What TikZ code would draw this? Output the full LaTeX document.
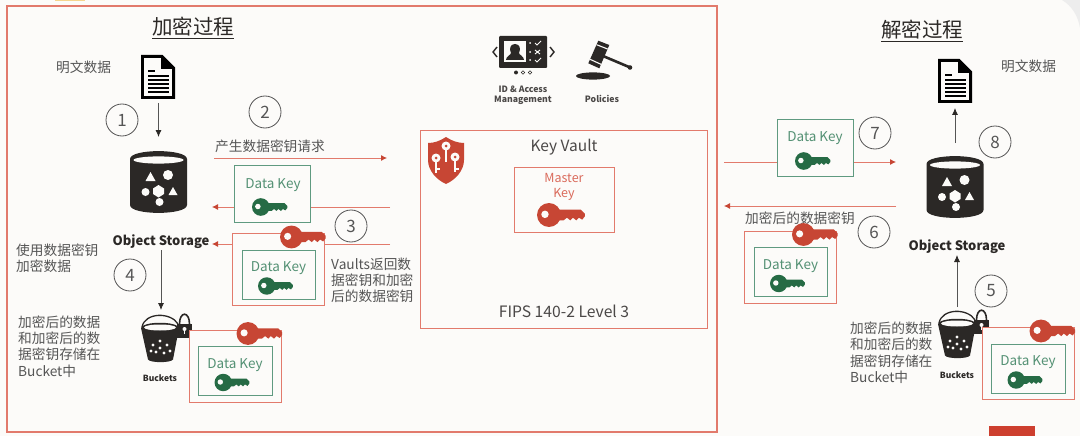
\documentclass[tikz,border=0pt]{standalone}
\usepackage{fontspec}
\setmainfont{Noto Sans CJK SC}
\usetikzlibrary{arrows.meta}
\definecolor{bgc}{HTML}{FCFBF9}
\definecolor{redk}{HTML}{C74634}
\definecolor{redl}{HTML}{E27A6C}
\definecolor{greenk}{HTML}{266B45}
\definecolor{greenl}{HTML}{5F9A80}
\definecolor{txt}{HTML}{555555}
\definecolor{ink}{HTML}{2B2826}
\definecolor{yel}{HTML}{F5D58E}
\tikzset{
  x=1pt,y=-1pt,
  lbl/.style={inner sep=0pt,text=txt,font=\fontsize{13.7}{16.3}\selectfont,align=left,anchor=west,yshift=-1.3pt},
  title/.style={inner sep=0pt,text=ink,font=\fontsize{20.5}{24}\selectfont,yshift=-1pt},
  stepno/.style={circle,draw=txt,line width=0.8pt,minimum size=32pt,inner sep=0pt,text=txt,font=\fontsize{17}{17}\selectfont},
  redarrow/.style={draw=redl,line width=0.8pt,-{Latex[length=6pt,width=6pt,color=redk]}},
  blackarrow/.style={draw=txt,line width=0.8pt,-{Latex[length=7pt,width=6pt,color=ink]}},
  gbox/.style={draw=greenl,line width=1.2pt,fill=bgc,inner sep=0pt},
  rbox/.style={draw=redl,line width=1.4pt,fill=bgc,inner sep=0pt},
  gtext/.style={inner sep=0pt,text=greenl!80!greenk,font=\fontsize{13.5}{15}\selectfont,yshift=-1.5pt},
  bold/.style={inner sep=0pt,text=ink,font=\bfseries\fontsize{#1}{#1}\selectfont,align=center},
  area/.style={inner sep=0pt,minimum width=#1},
}
% key: left x, centre y, scale (1 = 36 wide), colour
\newcommand{\keyicon}[4]{%
\begin{scope}[shift={(#1,#2)},scale=#3]
\fill[#4] (9,0) circle (9);
\fill[#4] (14,-4) -- (33,-4) -- (36,-1) -- (36,1) -- (34,3.5) -- (31.5,2) -- (29.5,4) -- (27,2) -- (25,4) -- (22.5,2) -- (20,4) -- (14,4) -- cycle;
\fill[bgc] (6,-0.5) circle (2.8);
\end{scope}}
% document: top left corner
\newcommand{\docicon}[2]{%
\begin{scope}[shift={(#1,#2)}]
\draw[black,line width=2.8pt,fill=bgc,line join=miter] (1.4,1.4) -- (21,1.4) -- (32.6,13) -- (32.6,42.6) -- (1.4,42.6) -- cycle;
\fill[black] (20,1) -- (33,14) -- (20,14) -- cycle;
\fill[black] (7,15.5) rectangle (14,17);
\foreach \yy in {20,24,28,32,36} \fill[black] (7,\yy) rectangle (28,\yy+1.6);
\end{scope}}
% cylinder: centre x, top y
\newcommand{\cylicon}[2]{%
\begin{scope}[shift={(#1,#2)}]
\fill[ink] (-28.5,8) .. controls (-28.5,-2.5) and (28.5,-2.5) .. (28.5,8) -- (28.5,54) .. controls (28.5,64.5) and (-28.5,64.5) .. (-28.5,54) -- cycle;
\fill[bgc] (0,9) ellipse (25 and 3.6);
\fill[bgc] (-8,21) -- (-3,30) -- (-13,30) -- cycle;
\fill[bgc] (9.5,24) circle (5);
\fill[bgc] (-13,41) circle (4);
\fill[bgc] (-5.5,37.5) -- (0,34) -- (5.5,37.5) -- (5.5,43) -- (0,46.5) -- (-5.5,43) -- cycle;
\fill[bgc] (14.5,36) -- (19,44) -- (10,44) -- cycle;
\fill[bgc] (1,51) circle (4);
\end{scope}}
% bucket: left x of rim, top y of rim
\newcommand{\bucketicon}[2]{%
\begin{scope}[shift={(#1,#2)}]
\draw[ink,line width=1.3pt] (1,9) .. controls (4,-6) and (30,-6) .. (37,6);
\fill[ink] (0,10) .. controls (2,3) and (36,3) .. (38,10) -- (32,41.5) .. controls (30,45) and (9,45) .. (7,41.5) -- cycle;
\fill[bgc] (19,9.5) ellipse (16 and 3);
\foreach \px/\py in {19/23, 12/27, 19/30, 26/27, 15/34, 23/35, 10/33, 29/33} {\fill[bgc] (\px,\py) circle (1.7);}
\draw[ink,line width=1.6pt] (38.5,6) .. controls (38.5,-7) and (48.5,-7) .. (48.5,6);
\fill[ink] (36,6) rectangle (51,20);
\fill[bgc] (43.5,11) circle (2);
\fill[bgc] (42.8,11) rectangle (44.2,16);
\end{scope}}
% encrypted data key box: outer left x, top y (92 x 72)
\newcommand{\encbox}[3]{%
\node[rbox,minimum width=92pt,minimum height=72pt,anchor=north west] (#3) at (#1,#2) {};
\node[gbox,minimum width=73.5pt,minimum height=49pt,anchor=north west] (#3inner) at (#1+9.5,#2+16.5) {};
\node[gtext] (#3text) at (#1+46.5,#2+34) {Data Key};
\keyicon{#1+26}{#2+53}{0.97}{greenk}
\keyicon{#1+48}{#2+4}{1.27}{redk}
}
\begin{document}
\begin{tikzpicture}
\useasboundingbox (0,0) rectangle (1080,436);
\fill[bgc] (0,0) rectangle (1080,436);
\fill[yel] (55,0) rectangle (85,1.2);
\fill[redk!90!red] (989,426) rectangle (1035,436);
\fill[black!7] (1080,0) -- (1062,0) .. controls (1072,6) and (1078,16) .. (1080,28) -- cycle;
\draw[redl,line width=2pt] (7,6) rectangle (716.5,432);

% titles
\node[title] (t1) at (193,27) {\underline{加密过程}};
\node[title] (t2) at (922,30) {\underline{解密过程}};

% nodes used as connector ends
\node[area=34pt,minimum height=44pt,anchor=north west] (doc1) at (141,55) {};
\node[area=57pt,minimum height=62pt,anchor=north] (cyl1) at (158.5,151) {};
\node[bold=13,yshift=-1.5pt] (os1) at (161,240) {Object Storage};
\node[area=40pt,minimum height=48pt,anchor=north west] (bkt1) at (141,315) {};
\node[area=34pt,minimum height=44pt,anchor=north west] (doc2) at (938,59) {};
\node[area=57pt,minimum height=62pt,anchor=north] (cyl2) at (955,156) {};
\node[bold=13,yshift=-1.5pt] (os2) at (957,245) {Object Storage};
\node[area=40pt,minimum height=48pt,anchor=north west] (bkt2) at (938,311) {};
\node[draw=redl,line width=1.2pt,fill=bgc,minimum width=287pt,minimum height=198pt,anchor=north west,inner sep=0pt] (vault) at (420,130) {};

\coordinate (a2s) at (214,158);
\coordinate (a2e) at (387,158);
\coordinate (a3s) at (390,207);
\coordinate (a3e) at (212,207);
\coordinate (a3bs) at (390,244);
\coordinate (a3be) at (212,244);
\coordinate (a7s) at (724,162);
\coordinate (a7e) at (896,162);
\coordinate (a6s) at (896,206);
\coordinate (a6e) at (724,206);
\coordinate (a1s) at (158.5,103);
\coordinate (a1e) at (158.5,137);
\coordinate (a4s) at (161,250);
\coordinate (a4e) at (161,310);
\coordinate (a8s) at (955,143);
\coordinate (a8e) at (955,108);
\coordinate (a5s) at (957,307);
\coordinate (a5e) at (957,255);

% connectors
\draw[blackarrow] (a1s) -- (a1e);
\draw[redarrow] (a2s) -- (a2e);
\draw[redarrow] (a3s) -- (a3e);
\draw[redarrow] (a3bs) -- (a3be);
\draw[blackarrow] (a4s) -- (a4e);
\draw[blackarrow] (a8s) -- (a8e);
\draw[redarrow] (a7s) -- (a7e);
\draw[redarrow] (a6s) -- (a6e);
\draw[blackarrow] (a5s) -- (a5e);

% icons
\docicon{141}{55}
\docicon{938}{59}
\cylicon{158.5}{151}
\cylicon{955}{156}
\bucketicon{141}{318}
\bucketicon{938}{314}

% step numbers
\node[stepno] (s1) at (122,120) {1};
\node[stepno] (s2) at (265,112) {2};
\node[stepno] (s3) at (351,226) {3};
\node[stepno] (s4) at (130,275) {4};
\node[stepno] (s5) at (991,291) {5};
\node[stepno] (s6) at (874,232) {6};
\node[stepno] (s7) at (875,133) {7};
\node[stepno] (s8) at (995,142) {8};

% labels
\node[lbl] (l1) at (56,66) {明文数据};
\node[lbl] (l2) at (215,144.5) {产生数据密钥请求};
\node[lbl] (l3) at (331,279) {Vaults返回数\\据密钥和加密\\后的数据密钥};
\node[lbl] (l4) at (16,257) {使用数据密钥\\加密数据};
\node[lbl] (l5) at (18,345) {加密后的数据\\和加密后的数\\据密钥存储在\\Bucket中};
\node[lbl] (l6) at (1001,65) {明文数据};
\node[lbl] (l7) at (745,217) {加密后的数据密钥};
\node[lbl] (l8) at (850,351.5) {加密后的数据\\和加密后的数\\据密钥存储在\\Bucket中};
\node[bold=8.5] (b1) at (160,378) {Buckets};
\node[bold=8.5] (b2) at (957,375) {Buckets};

% data keys
\node[gbox,minimum width=76pt,minimum height=57pt,anchor=north west] (dk1) at (234,165) {};
\node[gtext] (dk1t) at (273,184) {Data Key};
\keyicon{252}{207}{0.98}{greenk}
\node[gbox,minimum width=76pt,minimum height=57pt,anchor=north west] (dk2) at (777,119) {};
\node[gtext] (dk2t) at (815,137) {Data Key};
\keyicon{795}{161}{0.98}{greenk}
\encbox{232}{233}{e1}
\encbox{188.5}{329.5}{e2}
\encbox{744}{230.5}{e3}
\encbox{981.5}{327}{e4}

% key vault
\node[inner sep=0pt,text=ink!85,font=\fontsize{15.5}{16}\selectfont,yshift=-1.5pt] (kv) at (564,146) {Key Vault};
\node[draw=redl,line width=1.2pt,fill=bgc,minimum width=100pt,minimum height=65pt,anchor=north west,inner sep=0pt] (mk) at (514,167) {};
\node[inner sep=0pt,text=redl!70!redk,font=\fontsize{12.5}{15}\selectfont,align=center,yshift=-1.2pt] (mkt) at (564,185.5) {Master\\Key};
\keyicon{537}{215}{1.33}{redk}
\node[inner sep=0pt,text=ink!85,font=\fontsize{15.7}{16}\selectfont] (fips) at (564,311) {FIPS 140-2 Level 3};

% shield
\fill[redk] (446,137) .. controls (452,141) and (458,143) .. (464,143) -- (464,160) .. controls (464,171) and (455,180) .. (446,184) .. controls (437,180) and (428,171) .. (428,160) -- (428,143) .. controls (434,143) and (440,141) .. (446,137) -- cycle;
\fill[bgc] (446,146) circle (4.5);
\fill[bgc] (444.9,149) rectangle (447.1,162);
\fill[bgc] (436,158) circle (4.5);
\fill[bgc] (434.9,161) rectangle (437.1,173);
\fill[bgc] (455,157) circle (4.5);
\fill[bgc] (453.9,160) rectangle (456.1,172);
\fill[bgc] (437,168) rectangle (440,170);
\fill[bgc] (456,168) rectangle (459,170);
\fill[redk] (446,146) circle (1.5);
\fill[redk] (436,158) circle (1.5);
\fill[redk] (455,157) circle (1.5);

% identity and access management
\fill[ink,rounded corners=1pt] (499,36) rectangle (547,68);
\fill[bgc] (504,41) rectangle (526,62);
\fill[ink] (515,44) .. controls (510,44) and (509,49) .. (511,53) .. controls (511,55) and (506,56) .. (506,60) -- (524,60) .. controls (524,56) and (519,55) .. (519,53) .. controls (521,49) and (520,44) .. (515,44) -- cycle;
\foreach \yy in {43,52,60} \fill[bgc] (530,\yy) circle (1);
\draw[bgc,line width=1pt] (535,43) -- (537,45) -- (541,41);
\draw[bgc,line width=1pt] (535,50) -- (540,54) (540,50) -- (535,54);
\draw[bgc,line width=1pt] (535,60) -- (537,62) -- (541,58);
\draw[ink,line width=1.4pt] (497,47) -- (493,52) -- (497,57);
\draw[ink,line width=1.4pt] (550,47) -- (554,52) -- (550,57);
\fill[ink] (516,72.5) circle (2);
\draw[ink,line width=0.6pt] (523,72.5) circle (1.8) (530,72.5) circle (1.8);
\node[bold=8.7,text=ink!85] (iam) at (523,95.5) {ID \& Access\\[1.5pt]Management};
\node[bold=8.7,text=ink!85] (pol) at (602,99) {Policies};

% gavel
\draw[ink,line width=2.6pt] (603,56) -- (629,67);
\fill[ink] (630,67.5) circle (2.3);
\fill[ink] (598.3,40.7) -- (609.3,45) -- (599.3,68.3) -- (588.3,63.3) -- cycle;
\draw[bgc,line width=1.1pt] (596.6,44.7) -- (607.6,49);
\draw[bgc,line width=1.1pt] (590,59.3) -- (601,64.3);
\fill[ink] (593,76) ellipse (17 and 3.6);
\end{tikzpicture}
\end{document}
